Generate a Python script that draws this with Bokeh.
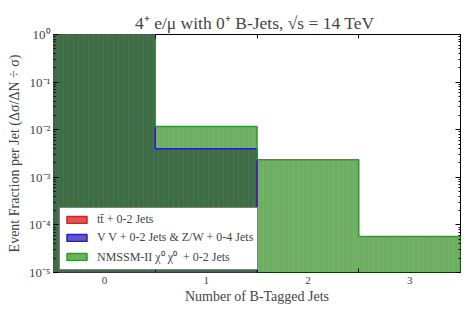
import numpy as np
from bokeh.plotting import figure
from bokeh.models import (Legend, LegendItem, LinearAxis, LogAxis,
                          FixedTicker, LogTicker, CustomJSTickFormatter, Range1d)
from bokeh.embed import file_html
from bokeh.resources import INLINE

# ---- data ----
bin_centers = [0, 1, 2, 3]
bin_edges = [-0.5, 0.5, 1.5, 2.5, 3.5]
x_tick_labels = ["0", "1", "2", "3"]
ttbar = [0.996, 0.004, 0.0, 0.0]
vv = [0.996, 0.004, 0.0, 0.0]
nmssm = [0.986, 0.0117, 0.00233, 0.000057]
series_labels = ["tt\u0304 + 0-2 Jets",
                 "V V + 0-2 Jets & Z/W + 0-4 Jets",
                 "NMSSM-II \u03c7\u2070 \u03c7\u2070  + 0-2 Jets"]
title_text = "4\u207a e/\u03bc with 0\u207a  B-Jets, \u221as = 14 TeV"
x_label = "Number of B-Tagged Jets"
y_label = "Event Fraction per Jet (\u0394\u03c3/\u0394N \u00f7 \u03c3)"

FLOOR = 1e-9
FONT = "Liberation Serif"

styles = [
    dict(fill="#cd0505", line="#d81e1e", hatch="/"),
    dict(fill="#2105b0", line="#2020c8", hatch="\\"),
    dict(fill="#308d22", line="#2f9a2a", hatch="|"),
]

p = figure(frame_width=407, frame_height=238,
           x_range=Range1d(-0.5, 3.5), y_range=Range1d(1e-5, 1),
           y_axis_type="log", output_backend="svg", toolbar_location=None,
           title=title_text,
           min_border_left=53, min_border_right=11, min_border_top=34, min_border_bottom=42)
p.background_fill_color = "white"
p.border_fill_color = "white"
p.outline_line_color = "black"
p.outline_line_width = 1
p.xgrid.visible = False
p.ygrid.visible = False

p.title.align = "center"
p.title.text_font = FONT
p.title.text_font_style = "normal"
p.title.text_font_size = "17.5px"
p.title.standoff = 4


def step_outline(vals):
    v = np.array([x if x > 0 else FLOOR for x in vals])
    xs = np.repeat(np.array(bin_edges), 2)
    ys = np.concatenate([[FLOOR], np.repeat(v, 2), [FLOOR]])
    return xs, ys


fills = []
for vals, st in zip([ttbar, vv, nmssm], styles):
    xs, ys = step_outline(vals)
    r = p.patch(xs, ys, fill_color=st["fill"], fill_alpha=0.7, line_color=None,
                hatch_pattern=st["hatch"], hatch_color="white", hatch_alpha=0.08,
                hatch_scale=5, hatch_weight=0.7)
    fills.append(r)

outlines = []
for vals, st in zip([ttbar, vv, nmssm], styles):
    xs, ys = step_outline(vals)
    r = p.patch(xs, ys, fill_alpha=0, line_color=st["line"], line_width=1.5)
    outlines.append(r)

legend_items = [LegendItem(label=lab, renderers=[f, o])
                for lab, f, o in zip(series_labels, fills, outlines)]

legend = Legend(items=legend_items, location=(6, 2))
legend.label_text_font = FONT
legend.label_text_font_size = "12px"
legend.glyph_width = 25
legend.glyph_height = 9
legend.label_height = 12
legend.spacing = 3
legend.padding = 4
legend.margin = 0
legend.label_standoff = 8
legend.border_line_color = "black"
legend.border_line_width = 1
legend.background_fill_color = "white"
legend.background_fill_alpha = 1
p.add_layout(legend, "center")

# ---- axes ----
label_map = {c: t for c, t in zip(bin_centers, x_tick_labels)}
xax = p.xaxis[0]
xax.ticker = FixedTicker(ticks=bin_centers, minor_ticks=bin_edges[1:-1])
xax.major_label_overrides = label_map
xax.major_tick_in = 0
xax.major_tick_out = 0
xax.minor_tick_in = 4
xax.minor_tick_out = 0
xax.major_label_text_font = FONT
xax.major_label_text_font_size = "11px"
xax.major_label_standoff = 4
xax.axis_label = x_label
xax.axis_label_text_font = FONT
xax.axis_label_text_font_style = "normal"
xax.axis_label_text_font_size = "14px"
xax.axis_label_standoff = 2
xax.axis_line_color = None

sup_js = """
const sup = {'0':'\u2070','1':'\u00b9','2':'\u00b2','3':'\u00b3','4':'\u2074','5':'\u2075',
             '6':'\u2076','7':'\u2077','8':'\u2078','9':'\u2079','-':'\u207b'};
const e = Math.round(Math.log10(tick));
return '10' + String(e).split('').map(c => sup[c]).join('');
"""
yax = p.yaxis[0]
yax.ticker = LogTicker(num_minor_ticks=10)
yax.formatter = CustomJSTickFormatter(code=sup_js)
yax.major_tick_in = 5
yax.major_tick_out = 0
yax.minor_tick_in = 2
yax.minor_tick_out = 0
yax.major_label_text_font = FONT
yax.major_label_text_font_size = "13px"
yax.major_label_standoff = 3
yax.axis_label = y_label
yax.axis_label_text_font = FONT
yax.axis_label_text_font_style = "normal"
yax.axis_label_text_font_size = "14px"
yax.axis_label_standoff = 4
yax.axis_line_color = None

blank_js = "return '';"
top_ax = LinearAxis(ticker=FixedTicker(ticks=bin_centers, minor_ticks=bin_edges[1:-1]),
                    formatter=CustomJSTickFormatter(code=blank_js),
                    major_tick_in=0, major_tick_out=0, minor_tick_in=4, minor_tick_out=0,
                    major_label_text_font_size="0px", major_label_standoff=0,
                    axis_line_color=None)
p.add_layout(top_ax, "above")
right_ax = LogAxis(ticker=LogTicker(num_minor_ticks=10),
                   formatter=CustomJSTickFormatter(code=blank_js),
                   major_tick_in=5, major_tick_out=0, minor_tick_in=2, minor_tick_out=0,
                   major_label_text_font_size="0px", major_label_standoff=0,
                   axis_line_color=None)
p.add_layout(right_ax, "right")

open("out.html", "w").write(file_html(p, INLINE))
